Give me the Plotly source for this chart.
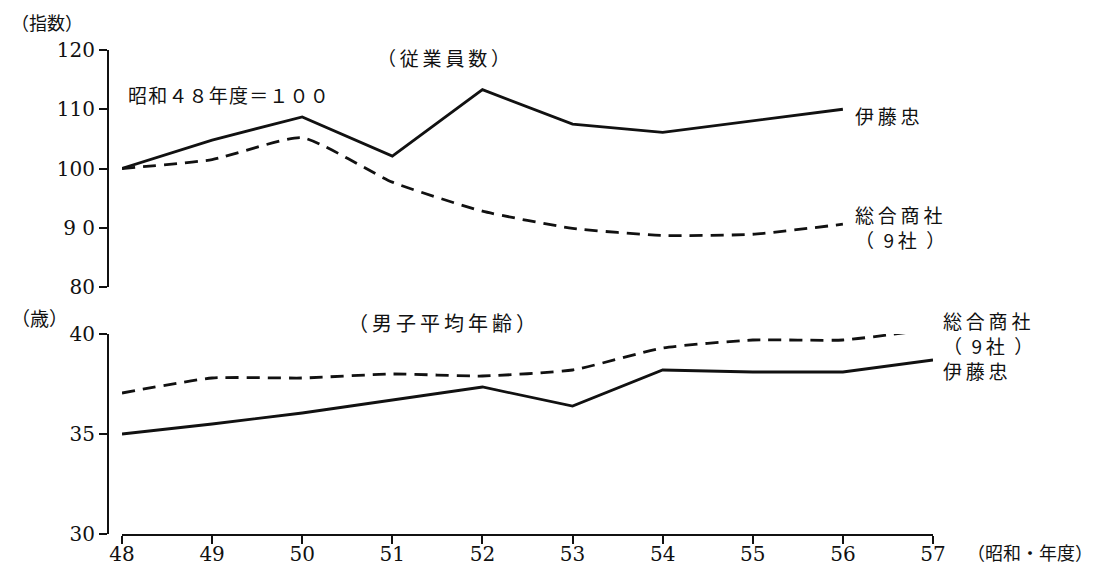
import plotly.graph_objects as go

years_top = [48, 49, 50, 51, 52, 53, 54, 55, 56]
itochu_emp = [100, 104.8, 108.7, 102.1, 113.3, 107.5, 106.1, 108.0, 110.0]
sogo_emp = [100, 101.5, 105.2, 97.7, 92.8, 89.9, 88.7, 88.9, 90.6]

years_bot = [48, 49, 50, 51, 52, 53, 54, 55, 56, 57]
itochu_age = [35.0, 35.5, 36.05, 36.7, 37.35, 36.4, 38.2, 38.1, 38.1, 38.7]
sogo_age = [37.05, 37.8, 37.8, 38.0, 37.9, 38.2, 39.3, 39.7, 39.7, 40.25]

x_ticks = [48, 49, 50, 51, 52, 53, 54, 55, 56, 57]
y_top_ticks = [80, 90, 100, 110, 120]
y_top_labels = ["80", "9 0", "100", "110", "120"]
y_bot_ticks = [30, 35, 40]

JP = "Noto Sans CJK JP"
NUM = "DejaVu Serif, Noto Sans CJK JP"
BLACK = "#111111"
TS = "\u2009"   # thin space
HS = "\u200a"   # hair space
EN = "\u2002"   # en space

fig = go.Figure()
solid = dict(color=BLACK, width=2.8)
dashed = dict(color=BLACK, width=2.8, dash="13px,8px")

fig.add_trace(go.Scatter(x=years_top, y=itochu_emp, mode="lines", line=solid, xaxis="x", yaxis="y", cliponaxis=False))
fig.add_trace(go.Scatter(x=years_top, y=sogo_emp, mode="lines", line=dict(dashed, shape="spline", smoothing=0.5), xaxis="x", yaxis="y", cliponaxis=False))
fig.add_trace(go.Scatter(x=years_bot, y=itochu_age, mode="lines", line=solid, xaxis="x2", yaxis="y2", cliponaxis=False))
fig.add_trace(go.Scatter(x=years_bot, y=sogo_age, mode="lines", line=dict(dashed, shape="spline", smoothing=0.5), xaxis="x2", yaxis="y2", cliponaxis=False))

W, H = 1095, 569
OFF = 8  # page body margin
L, R, T, B = 108 - OFF, W - (933 - OFF), 50 - OFF, H - (534 - OFF)
pw = W - L - R
ph = H - T - B


def px(xv):
    return (xv - OFF - L) / pw


def py(yv):
    return (H - B - (yv - OFF)) / ph


xd0 = px(122)
top_d = [py(287), 1.0]
bot_d = [0.0, py(334)]

axis_common = dict(showgrid=False, zeroline=False, showline=True, linecolor=BLACK, linewidth=2,
                   ticks="outside", ticklen=8, tickwidth=2, tickcolor=BLACK, automargin=False,
                   tickfont=dict(family=NUM, size=20, color=BLACK))

fig.update_layout(
    width=W, height=H, margin=dict(l=L, r=R, t=T, b=B, autoexpand=False),
    paper_bgcolor="white", plot_bgcolor="white", showlegend=False,
    xaxis=dict(domain=[xd0, 1], range=[48, 57], anchor="y", visible=False),
    yaxis=dict(axis_common, domain=top_d, range=[80, 120], anchor="free", position=0,
               tickvals=y_top_ticks, ticktext=y_top_labels),
    xaxis2=dict(axis_common, domain=[xd0, 1], range=[48, 57], anchor="y2",
                tickvals=x_ticks, ticklabelstandoff=-7),
    yaxis2=dict(axis_common, domain=bot_d, range=[30, 40], anchor="free", position=0,
                tickvals=y_bot_ticks),
)


def sp(s, sep=TS):
    return sep.join(list(s))


def A(text, xv, yv, xanchor="left", size=18):
    return dict(text=text, xref="paper", yref="paper", x=px(xv), y=py(yv),
                xanchor=xanchor, yanchor="middle", showarrow=False, align="left",
                font=dict(family=JP, size=size, color=BLACK))


nine = "（" + EN + "9" + TS + "社" + EN + "）"
ann = [
    A("（指数）", 9, 22, size=18),
    A(sp("（従業員数）"), 443, 57, "center", size=19),
    A(sp("昭和４８年度＝１００", HS), 126, 95, size=19),
    A(sp("伊藤忠"), 853, 115, size=19),
    A(sp("総合商社") + "<br>" + nine, 853, 227, size=19),
    A("（歳）", 9, 318, size=19),
    A(sp("（男子平均年齢）"), 442, 322, "center", size=20),
    A(sp("総合商社") + "<br>" + nine, 941, 333, size=19),
    A(sp("伊藤忠"), 941, 370, size=19),
    A("（昭和・年度）", 965, 552, size=18),
]
fig.update_layout(annotations=ann)

fig.write_html("out.html")
